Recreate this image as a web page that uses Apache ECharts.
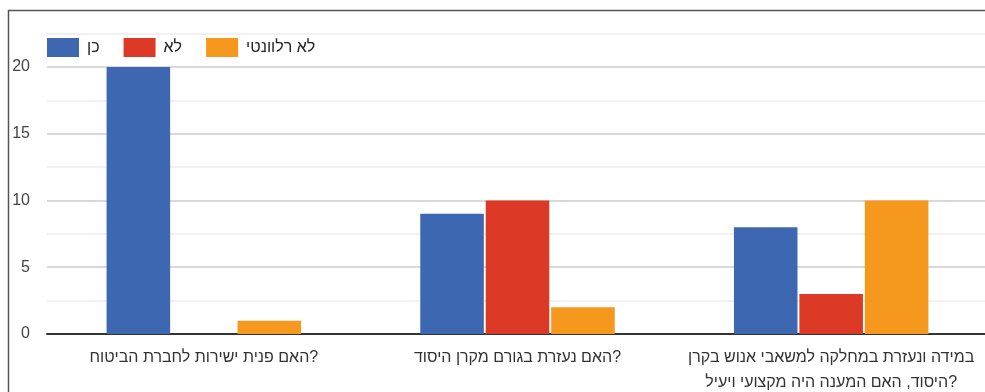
<!DOCTYPE html>
<html lang="he">
<head>
<meta charset="utf-8">
<script src="https://cdn.jsdelivr.net/npm/echarts@6/dist/echarts.min.js"></script>
<style>
  html, body { margin: 0; padding: 0; background: #fff; }
  #chart { position: absolute; left: 0; top: 0; width: 985px; height: 392px; }
</style>
</head>
<body>
<div id="chart"></div>
<script>
// Survey answers per question
const categories = [
  'האם פנית ישירות לחברת הביטוח?',
  'האם נעזרת בגורם מקרן היסוד?',
  'במידה ונעזרת במחלקה למשאבי אנוש בקרן היסוד, האם המענה היה מקצועי ויעיל?'
];
const seriesNames = ['כן', 'לא', 'לא רלוונטי'];
const yesValues = [20, 9, 8];
const noValues = [0, 10, 3];
const naValues = [1, 2, 10];
const colors = ['#3d67b1', '#dc3a26', '#f6981d'];

const chart = echarts.init(document.getElementById('chart'), null, { renderer: 'canvas' });

const font = 'Arial, "Liberation Sans", sans-serif';
const labelFontSize = 16;

// word-wrap a label to a pixel width
const measureCtx = document.createElement('canvas').getContext('2d');
measureCtx.font = labelFontSize + 'px ' + font;
function wrapLabel(text, maxWidth) {
  const words = text.split(' ');
  const lines = [];
  let line = '';
  words.forEach(function (w) {
    const test = line ? line + ' ' + w : w;
    if (line && measureCtx.measureText(test).width > maxWidth) {
      lines.push(line);
      line = w;
    } else {
      line = test;
    }
  });
  if (line) lines.push(line);
  return lines.join('\n');
}

function barSeries(name, data, color) {
  return {
    name: name,
    type: 'bar',
    data: data,
    barGap: '3%',
    barCategoryGap: '38%',
    itemStyle: { color: color },
    emphasis: { disabled: true }
  };
}

chart.setOption({
  animation: false,
  color: colors,
  textStyle: { fontFamily: font },
  grid: {
    left: 47, top: 33.6, width: 941, height: 300.4,
    containLabel: false, outerBoundsMode: 'none'
  },
  legend: {
    left: 47,
    top: 38,
    padding: 0,
    itemWidth: 32,
    itemHeight: 19,
    itemGap: 24,
    icon: 'rect',
    textStyle: { fontSize: 16, color: '#222', fontFamily: font, padding: [0, 0, 0, 3] },
    data: seriesNames
  },
  xAxis: {
    type: 'category',
    data: categories,
    axisLine: { lineStyle: { color: '#333', width: 2 } },
    axisTick: { show: false },
    axisLabel: {
      interval: 0,
      hideOverlap: false,
      margin: 11,
      fontSize: labelFontSize,
      color: '#333',
      lineHeight: 25,
      formatter: function (v) { return wrapLabel(v, 300); }
    }
  },
  yAxis: {
    type: 'value',
    min: 0,
    max: 22.5,
    interval: 2.5,
    axisLine: { show: false },
    axisTick: { show: false },
    axisLabel: {
      margin: 17,
      fontSize: 16,
      color: '#444',
      showMaxLabel: false,
      formatter: function (v) { return v % 5 === 0 ? String(v) : ''; }
    },
    splitLine: { lineStyle: { color: ['#cccccc', '#ececec'], width: 1.5 } }
  },
  graphic: [{
    type: 'polyline',
    shape: { points: [[8.5, 400], [8.5, 10.5], [990, 10.5]] },
    style: { stroke: '#555', lineWidth: 1.5, fill: null },
    silent: true
  }],
  series: [
    barSeries(seriesNames[0], yesValues, colors[0]),
    barSeries(seriesNames[1], noValues, colors[1]),
    barSeries(seriesNames[2], naValues, colors[2])
  ]
});
</script>
</body>
</html>
